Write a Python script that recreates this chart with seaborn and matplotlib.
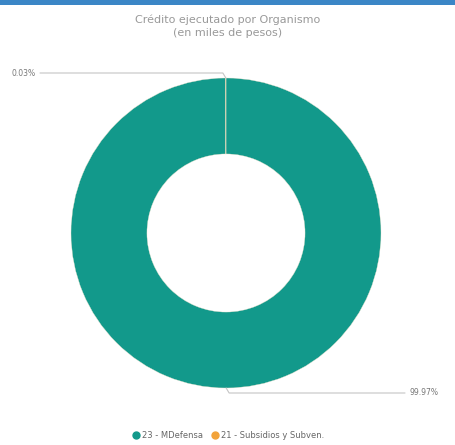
import numpy as np
import matplotlib
matplotlib.use("Agg")
import matplotlib.pyplot as plt
import seaborn as sns
from matplotlib.patches import Rectangle
from matplotlib.lines import Line2D

sns.set_theme(style="white")
plt.rcParams['font.family'] = ['DejaVu Sans']

categories = ["23 - MDefensa", "21 - Subsidios y Subven."]
values = [99.97, 0.03]
labels = ["99.97%", "0.03%"]
colors = ["#12998b", "#f2a33a"]
title = "Crédito ejecutado por Organismo\n(en miles de pesos)"

W, H = 456, 445
fig = plt.figure(figsize=(W / 100, H / 100), dpi=100)
ax = fig.add_axes([0, 0, 1, 1])
ax.set_xlim(0, W)
ax.set_ylim(0, H)
ax.set_aspect("equal")
ax.axis("off")

# top blue strip
ax.add_patch(Rectangle((0, H - 5), W, 5, color="#3b86c6", lw=0))

cx, cy, R = 226, H - 233, 155
wedges, _ = ax.pie(values, colors=colors, startangle=90, counterclock=False,
                   radius=R, center=(cx, cy),
                   wedgeprops=dict(width=R * 0.49, edgecolor="#e8e0c8", linewidth=0.25))
ax.set_xlim(0, W)
ax.set_ylim(0, H)

# leader lines and labels
for w, lab in zip(wedges, labels):
    ang = np.deg2rad((w.theta1 + w.theta2) / 2)
    x0 = cx + R * np.cos(ang)
    y0 = cy + R * np.sin(ang)
    if np.sin(ang) > 0:  # top label, to the left
        ly = y0 + 5
        ax.plot([x0, x0 - 3, 40], [y0, ly, ly], color="#c4c4c4", lw=0.8)
        ax.text(36, ly, lab, ha="right", va="center", fontsize=5.5, color="#777777")
    else:
        ly = y0 - 5
        ax.plot([x0, x0 + 3, 405], [y0, ly, ly], color="#c4c4c4", lw=0.8)
        ax.text(410, ly, lab, ha="left", va="center", fontsize=5.5, color="#777777")

fig.text(0.5, 1 - 26 / H, title, ha="center", va="center", fontsize=8,
         color="#999999", linespacing=1.4)

handles = [Line2D([0], [0], marker="o", color="none", markerfacecolor=c,
                  markeredgecolor=c, markersize=5) for c in colors]
fig.legend(handles, categories, loc="center", bbox_to_anchor=(0.5, 1 - 435 / H),
           ncol=2, frameon=False, fontsize=6, labelcolor="#666666",
           handletextpad=0.2, columnspacing=1.0, handlelength=1.0)

fig.savefig("out.png", dpi=100, facecolor="white")
